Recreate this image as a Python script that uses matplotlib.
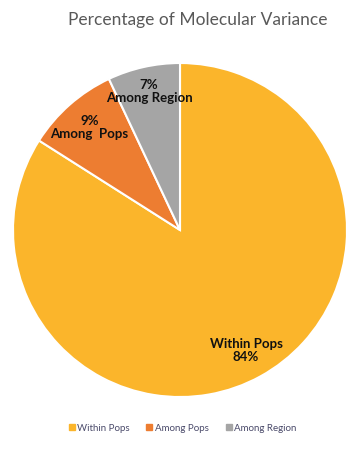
import matplotlib
matplotlib.use("Agg")
import matplotlib.pyplot as plt
from matplotlib.lines import Line2D
import numpy as np

categories = ["Within Pops", "Among Pops", "Among Region"]
values = [84, 9, 7]
colors = ["#FBB52B", "#ED7D31", "#A5A5A5"]
title = "Percentage of Molecular Variance"

plt.rcParams['font.family'] = ['Lato', 'DejaVu Sans']

fig = plt.figure(figsize=(3.5, 4.54), dpi=100)
fig.patch.set_facecolor("white")
ax = fig.add_axes([0.0343, 0.1255, 0.96, 0.7357])

labels = []
for c, v in zip(categories, values):
    if c == "Within Pops":
        labels.append(f"{c}\n{v}%")
    elif c == "Among Pops":
        labels.append(f"{v}%\nAmong  Pops")
    else:
        labels.append(f"{v}%\n{c}")

wedges, texts = ax.pie(values, labels=labels, colors=colors, startangle=90,
                       counterclock=False, labeldistance=0.82,
                       wedgeprops=dict(edgecolor="white", linewidth=1.5),
                       textprops=dict(fontsize=9.5, fontweight="bold", color="#111111",
                                      linespacing=1.1))
for t in texts:
    t.set_ha("center")
    t.set_va("center")
    t.set_multialignment("center")
# nudge the small-slice label slightly outward as in the reference
x, y = texts[2].get_position()
texts[2].set_position((x * 1.04, y * 1.04))
ax.set_aspect("equal")
ax.set_xlim(-1.0, 1.0)
ax.set_ylim(-1.0, 1.0)

fig.text(0.566, 0.956, title, ha="center", va="center", fontsize=12.5, color="#595959")

handles = [Line2D([0], [0], marker="s", linestyle="none", markersize=4,
                  markerfacecolor=col, markeredgecolor=col) for col in colors]
fig.legend(handles, categories, loc="center", bbox_to_anchor=(0.522, 0.057), ncol=3,
           frameon=False, fontsize=7, labelcolor="#4a4a6a", handlelength=0.6,
           handletextpad=0.3, columnspacing=1.7)

fig.savefig("out.png", dpi=100, facecolor="white")
